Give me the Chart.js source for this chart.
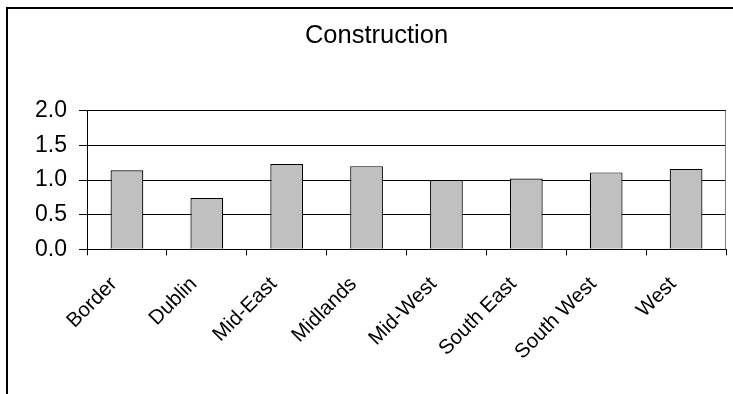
<!DOCTYPE html>
<html>
<head>
<meta charset="utf-8">
<title>Construction</title>
<script src="https://cdn.jsdelivr.net/npm/chart.js@4"></script>
<style>
  html, body { margin: 0; padding: 0; background: #ffffff; overflow: hidden; }
  canvas { display: block; }
</style>
</head>
<body>
<canvas id="chart" width="733" height="394"></canvas>
<script>
// Regions and their construction index values
const regions = ['Border', 'Dublin', 'Mid-East', 'Midlands', 'Mid-West', 'South East', 'South West', 'West'];
const constructionValues = [1.14, 0.74, 1.23, 1.20, 1.00, 1.02, 1.11, 1.16];
const yTickValues = [0, 0.5, 1.0, 1.5, 2.0];

const FONT = '"Liberation Sans", Arial, sans-serif';

// Outer frame of the chart panel and the grey right edge of the plot area
const framePlugin = {
  id: 'frame',
  beforeDraw(chart) {
    const ctx = chart.ctx;
    ctx.save();
    ctx.fillStyle = '#ffffff';
    ctx.fillRect(0, 0, chart.width, chart.height);
    ctx.strokeStyle = '#000000';
    ctx.lineWidth = 2;
    ctx.beginPath();
    ctx.moveTo(7, chart.height + 2);
    ctx.lineTo(7, 8);
    ctx.lineTo(chart.width + 2, 8);
    ctx.stroke();
    ctx.restore();
  },
  afterDatasetsDraw(chart) {
    const { ctx, chartArea } = chart;
    ctx.save();
    ctx.strokeStyle = '#808080';
    ctx.lineWidth = 1;
    ctx.beginPath();
    const x = Math.round(chartArea.right) - 0.5;
    ctx.moveTo(x, chartArea.top);
    ctx.lineTo(x, chartArea.bottom);
    ctx.stroke();
    ctx.restore();
  }
};

new Chart(document.getElementById('chart'), {
  type: 'bar',
  data: {
    labels: regions,
    datasets: [{
      label: 'Construction',
      data: constructionValues,
      backgroundColor: '#c0c0c0',
      borderColor: '#000000',
      borderWidth: 1.2,
      borderSkipped: 'bottom',
      categoryPercentage: 1.0,
      barPercentage: 0.41
    }]
  },
  options: {
    responsive: false,
    animation: false,
    devicePixelRatio: 1,
    layout: { padding: { left: 27, right: 7, top: 0, bottom: 0 } },
    plugins: {
      legend: { display: false },
      tooltip: { enabled: false },
      title: {
        display: true,
        text: 'Construction',
        color: '#000000',
        font: { family: FONT, size: 25.5, weight: 'normal', lineHeight: 1.2 },
        padding: { top: 20.7, bottom: 59.4 }
      }
    },
    scales: {
      x: {
        grid: {
          display: true,
          drawOnChartArea: false,
          drawTicks: true,
          tickLength: 6,
          color: '#000000',
          offset: true
        },
        border: { display: true, color: '#000000', width: 1 },
        ticks: {
          autoSkip: false,
          maxRotation: 45,
          minRotation: 45,
          padding: 17,
          labelOffset: -13,
          color: '#000000',
          font: { family: FONT, size: 20.5 }
        },
        afterFit(scale) { scale.height = 144.7; }
      },
      y: {
        min: 0,
        max: 2,
        afterBuildTicks(scale) {
          scale.ticks = yTickValues.map(v => ({ value: v }));
        },
        grid: {
          color: '#000000',
          lineWidth: 1,
          drawTicks: true,
          tickLength: 8
        },
        border: { display: true, color: '#000000', width: 1 },
        ticks: {
          padding: 12,
          color: '#000000',
          font: { family: FONT, size: 23 },
          callback: (v) => Number(v).toFixed(1)
        },
        afterFit(scale) { scale.width = 60; }
      }
    }
  },
  plugins: [framePlugin]
});
</script>
</body>
</html>
